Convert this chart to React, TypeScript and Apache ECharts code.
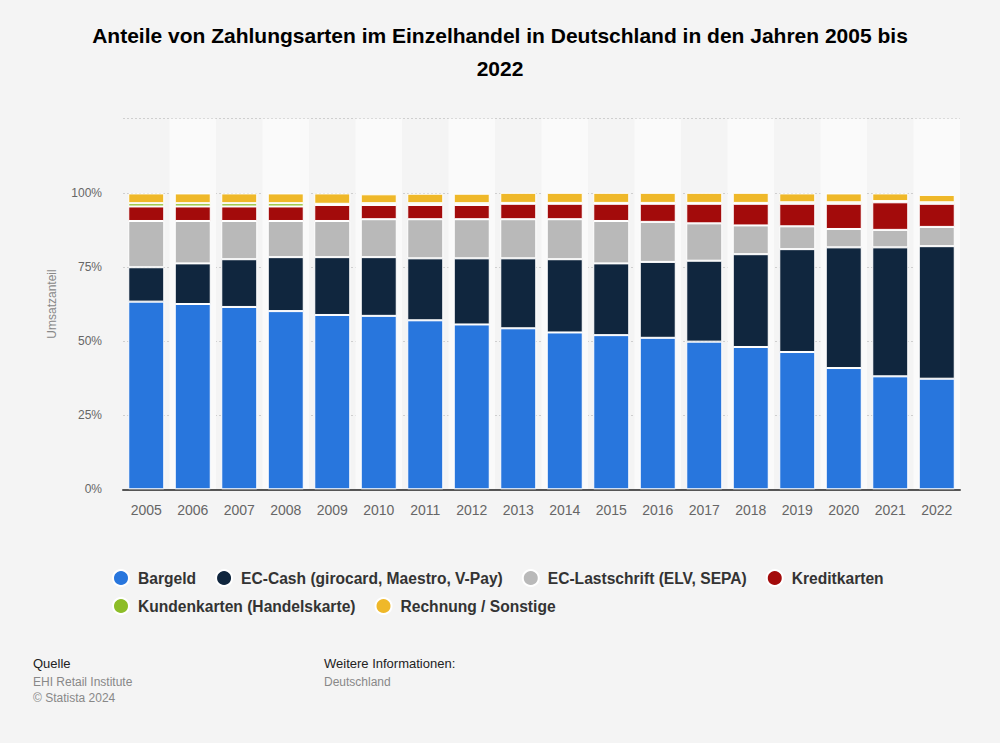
import React, { useEffect, useRef } from "react";
import * as echarts from "echarts";

const years = ["2005","2006","2007","2008","2009","2010","2011","2012","2013","2014","2015","2016","2017","2018","2019","2020","2021","2022"];
const bargeld = [63.3,62.5,61.5,60.1,58.8,58.5,57.0,55.6,54.3,52.9,52.0,51.1,49.8,48.0,46.3,40.9,38.1,37.3];
const ecCash = [11.6,13.7,16.1,18.2,19.5,19.8,20.9,22.3,23.6,24.7,24.2,25.6,27.3,31.3,34.7,40.7,43.5,44.7];
const lastschrift = [15.6,14.3,12.9,12.2,12.2,12.8,13.2,13.2,13.2,13.5,14.3,13.5,12.6,9.7,7.7,6.2,5.9,6.5];
const kredit = [4.9,4.9,4.9,4.9,5.4,4.8,4.8,4.8,5.2,5.2,5.8,6.1,6.6,7.3,7.6,8.5,9.3,7.8];
const kunden = [1.1,1.1,1.1,1.1,0.4,0.6,0.6,0.6,0.3,0.3,0.3,0.3,0.3,0.3,0.5,0.5,0.4,0.5];
const rechnung = [3.3,3.3,3.3,3.3,3.5,3.0,3.2,3.2,3.4,3.4,3.4,3.4,3.4,3.4,3.0,3.0,2.6,2.5];
const yTicks = ["0%","25%","50%","75%","100%"];

const seriesDefs = [
  { name: "Bargeld", data: bargeld, color: "#2876dd" },
  { name: "EC-Cash (girocard, Maestro, V-Pay)", data: ecCash, color: "#10263e" },
  { name: "EC-Lastschrift (ELV, SEPA)", data: lastschrift, color: "#b9b9b9" },
  { name: "Kreditkarten", data: kredit, color: "#a30b0b" },
  { name: "Kundenkarten (Handelskarte)", data: kunden, color: "#8dbd28" },
  { name: "Rechnung / Sonstige", data: rechnung, color: "#efb829" },
];

const FONT = "'Liberation Sans', Arial, Helvetica, sans-serif";

export default function App() {
  const ref = useRef<HTMLDivElement>(null);
  useEffect(() => {
    if (!ref.current) return;
    const chart = echarts.init(ref.current, undefined, { renderer: "svg" });
    const legendBase = {
      left: 107,
      icon: "circle",
      itemWidth: 16,
      itemHeight: 16,
      itemGap: 19,
      selectedMode: false,
      textStyle: { fontFamily: FONT, fontSize: 15.6, fontWeight: "bold", color: "#333", padding: [0, 0, 0, 4] },
    };
    chart.setOption({
      animation: false,
      backgroundColor: "#f4f4f4",
      textStyle: { fontFamily: FONT },
      title: {
        text: "Anteile von Zahlungsarten im Einzelhandel in Deutschland in den Jahren 2005 bis\n2022",
        left: "center",
        top: 13.5,
        textStyle: { fontFamily: FONT, fontSize: 21, fontWeight: "bold", color: "#000", lineHeight: 33 },
      },
      legend: [
        { ...legendBase, top: 564, data: seriesDefs.slice(0, 4).map((s) => s.name) },
        { ...legendBase, top: 592, data: seriesDefs.slice(4).map((s) => s.name) },
      ],
      grid: { left: 123, right: 40, top: 118.7, bottom: 253.7 },
      xAxis: {
        type: "category",
        data: years,
        axisLine: { lineStyle: { color: "#555", width: 2 } },
        axisTick: { show: false },
        axisLabel: { fontFamily: FONT, fontSize: 14, color: "#666", margin: 14 },
        splitArea: { show: true, interval: 0, areaStyle: { color: ["rgba(0,0,0,0)", "#fafafa"] } },
      },
      yAxis: {
        type: "value",
        min: 0,
        max: 125,
        interval: 25,
        name: "Umsatzanteil",
        nameLocation: "middle",
        nameGap: 65,
        nameTextStyle: { fontFamily: FONT, fontSize: 12, color: "#888" },
        axisLine: { show: false },
        axisTick: { show: false },
        axisLabel: {
          fontFamily: FONT,
          fontSize: 12,
          color: "#666",
          margin: 21,
          formatter: (v: number) => yTicks[Math.round(v / 25)] ?? "",
        },
        splitLine: { lineStyle: { color: "#cfcfcf", type: [2, 2], width: 1 } },
      },
      series: seriesDefs.map((s) => ({
        name: s.name,
        type: "bar",
        stack: "total",
        data: s.data,
        barWidth: 36,
        itemStyle: { color: s.color, borderColor: "#ffffff", borderWidth: 1 },
        emphasis: { disabled: true },
      })),
      graphic: [
        { type: "text", left: 33, top: 657, style: { text: "Quelle", fontFamily: FONT, fontSize: 13, fill: "#222" } },
        { type: "text", left: 33, top: 676, style: { text: "EHI Retail Institute", fontFamily: FONT, fontSize: 12, fill: "#888" } },
        { type: "text", left: 33, top: 692, style: { text: "© Statista 2024", fontFamily: FONT, fontSize: 12, fill: "#888" } },
        { type: "text", left: 324, top: 657, style: { text: "Weitere Informationen:", fontFamily: FONT, fontSize: 13, fill: "#222" } },
        { type: "text", left: 324, top: 676, style: { text: "Deutschland", fontFamily: FONT, fontSize: 12, fill: "#888" } },
      ],
    });
    return () => chart.dispose();
  }, []);
  return <div ref={ref} style={{ width: 1000, height: 743, position: "absolute", left: 0, top: 0 }} />;
}
